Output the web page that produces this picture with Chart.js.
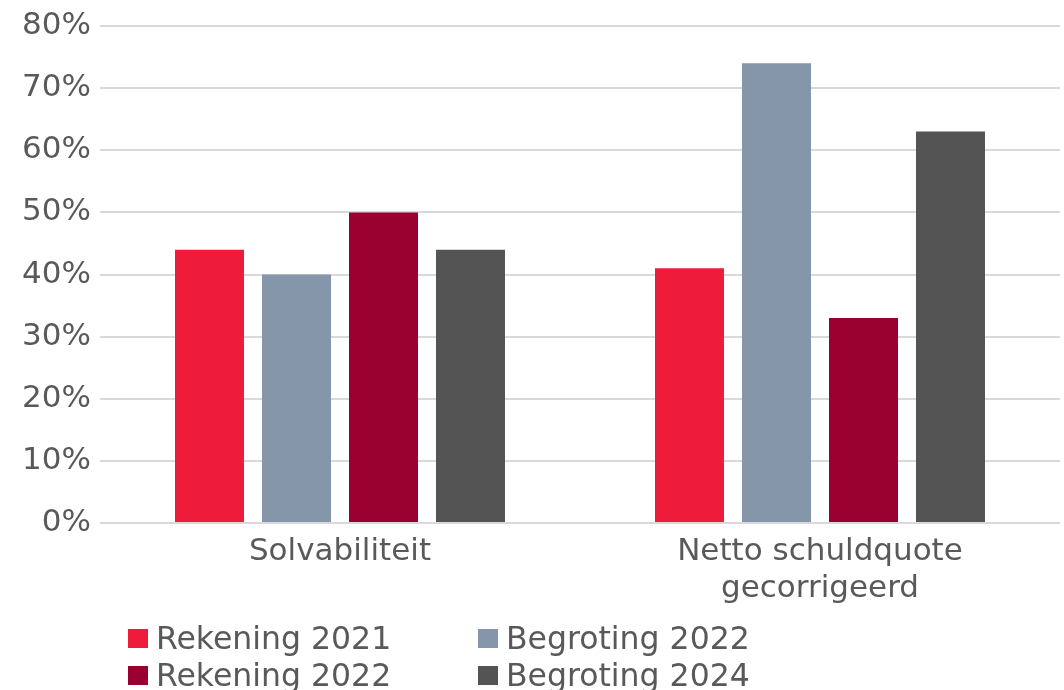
<!DOCTYPE html>
<html>
<head>
<meta charset="utf-8">
<script src="https://cdn.jsdelivr.net/npm/chart.js@4"></script>
<style>
  body { margin: 0; background: #fff; }
  #wrap { position: relative; width: 1064px; height: 690px; overflow: hidden; font-family: "DejaVu Sans", sans-serif; }
  #legend { position: absolute; left: 128px; top: 620px; width: 800px; }
  .item { position: absolute; display: flex; align-items: center; color: #595959; font-size: 31.5px; white-space: nowrap; }
  .box { width: 20px; height: 19px; margin-right: 8px; }
</style>
</head>
<body>
<div id="wrap">
  <canvas id="chart" width="1064" height="690"></canvas>
  <div id="legend"></div>
</div>
<script>
const categories = ['Solvabiliteit', ['Netto schuldquote', 'gecorrigeerd']];
const seriesNames = ['Rekening 2021', 'Begroting 2022', 'Rekening 2022', 'Begroting 2024'];
const seriesColors = ['#EF1B3B', '#8596AA', '#990030', '#545454'];
const rekening2021 = [44, 41];
const begroting2022 = [40, 74];
const rekening2022 = [50, 33];
const begroting2024 = [44, 63];
const yTicks = [0, 10, 20, 30, 40, 50, 60, 70, 80];

const seriesValues = [rekening2021, begroting2022, rekening2022, begroting2024];
const tickColor = '#595959';

// html legend, two columns
const legendPos = [[0, 0], [350, 0], [0, 37], [350, 37]];
const legendEl = document.getElementById('legend');
seriesNames.forEach((name, i) => {
    const item = document.createElement('div');
    item.className = 'item';
    item.style.left = legendPos[i][0] + 'px';
    item.style.top = legendPos[i][1] + 'px';
    item.innerHTML = '<span class="box" style="background:' + seriesColors[i] + '"></span><span>' + name + '</span>';
    legendEl.appendChild(item);
});

const ctx = document.getElementById('chart').getContext('2d');
new Chart(ctx, {
    type: 'bar',
    data: {
        labels: categories,
        datasets: seriesNames.map((name, i) => ({
            label: name,
            data: seriesValues[i],
            backgroundColor: seriesColors[i],
            borderWidth: 0,
            categoryPercentage: 0.725,
            barPercentage: 0.793
        }))
    },
    options: {
        responsive: false,
        animation: false,
        layout: { padding: { top: 26, right: 4, left: 0, bottom: 0 } },
        plugins: {
            legend: { display: false },
            tooltip: { enabled: false }
        },
        scales: {
            x: {
                grid: { display: false, drawTicks: false },
                border: { display: false },
                ticks: {
                    color: tickColor,
                    font: { family: 'DejaVu Sans', size: 31, lineHeight: 1.18 },
                    padding: 11,
                    maxRotation: 0,
                    autoSkip: false
                },
                afterFit: (scale) => { scale.height = 167; }
            },
            y: {
                min: 0,
                max: 80,
                afterBuildTicks: (scale) => { scale.ticks = yTicks.map(v => ({ value: v })); },
                grid: { color: '#d9d9d9', lineWidth: 2, drawTicks: false },
                border: { display: false },
                ticks: {
                    color: tickColor,
                    font: { family: 'DejaVu Sans', size: 31, lineHeight: 1 },
                    padding: 9,
                    callback: (v) => v + '%'
                },
                afterFit: (scale) => { scale.width = 100; }
            }
        }
    }
});
</script>
</body>
</html>
